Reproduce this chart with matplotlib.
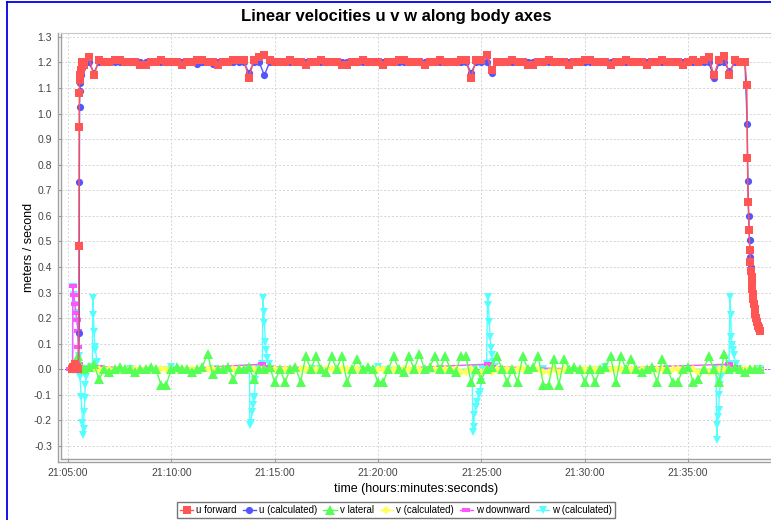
import numpy as np
import matplotlib
matplotlib.use('Agg')
import matplotlib.pyplot as plt
from matplotlib import rcParams
from matplotlib.lines import Line2D
from matplotlib.ticker import FuncFormatter

rcParams.update({'font.family': ['Liberation Sans', 'DejaVu Sans'], 'axes.unicode_minus': False})

title = 'Linear velocities u v w along body axes'
series_names = ['u forward', 'u (calculated)', 'v lateral', 'v (calculated)', 'w downward', 'w (calculated)']
series_colors = ['#FF5555', '#5555FF', '#55FF55', '#FFFF55', '#FF55FF', '#55FFFF']
xtick_minutes = [5, 10, 15, 20, 25, 30, 35]     # minutes after 21:00:00
ytick_values = [-0.3, -0.2, -0.1, 0.0, 0.1, 0.2, 0.3, 0.4, 0.5, 0.6, 0.7, 0.8, 0.9, 1.0, 1.1, 1.2, 1.3]

# ---- u forward (times in minutes after 21:00:00) ----
u_fwd_ramp_t = [5.20, 5.25, 5.30, 5.35, 5.40, 5.45, 5.50, 5.530, 5.540, 5.550, 5.565, 5.580, 5.620, 5.660, 5.700]
u_fwd_ramp_v = [0.00, 0.01, 0.00, 0.02, 0.00, 0.01, 0.00, 0.483, 0.949, 1.080, 1.130, 1.150, 1.170, 1.190, 1.200]
# sampled every 15 s from 21:05:45
u_fwd_plateau = [1.19, 1.22, 1.15, 1.21, 1.20, 1.20, 1.21, 1.21, 1.20, 1.20,
                 1.20, 1.19, 1.19, 1.20, 1.20, 1.21, 1.20, 1.20, 1.20, 1.19,
                 1.20, 1.20, 1.21, 1.21, 1.20, 1.20, 1.19, 1.20, 1.20, 1.21,
                 1.21, 1.21, 1.14, 1.21, 1.22, 1.23, 1.21, 1.20, 1.20, 1.20,
                 1.21, 1.20, 1.20, 1.19, 1.20, 1.20, 1.21, 1.20, 1.20, 1.20,
                 1.19, 1.19, 1.20, 1.20, 1.21, 1.20, 1.20, 1.20, 1.19, 1.20,
                 1.20, 1.21, 1.21, 1.20, 1.20, 1.20, 1.19, 1.20, 1.20, 1.21,
                 1.20, 1.20, 1.20, 1.21, 1.21, 1.14, 1.21, 1.21, 1.23, 1.17,
                 1.20, 1.20, 1.20, 1.21, 1.20, 1.20, 1.19, 1.19, 1.20, 1.20,
                 1.21, 1.20, 1.20, 1.20, 1.19, 1.20, 1.20, 1.21, 1.21, 1.20,
                 1.20, 1.20, 1.19, 1.20, 1.20, 1.21, 1.20, 1.20, 1.20, 1.19,
                 1.20, 1.20, 1.21, 1.20, 1.20, 1.20, 1.19, 1.20, 1.21, 1.20,
                 1.21, 1.22, 1.15, 1.21, 1.225, 1.15, 1.21, 1.20, 1.20]
u_fwd_tail_t = [37.84, 37.87, 37.905, 37.95, 37.985, 38.015, 38.05, 38.07, 38.09, 38.11,
                38.13, 38.16, 38.19, 38.22, 38.26, 38.30, 38.35, 38.40, 38.45, 38.49]
u_fwd_tail_v = [1.11, 0.825, 0.656, 0.546, 0.467, 0.42, 0.385, 0.36, 0.335, 0.315,
                0.295, 0.275, 0.255, 0.235, 0.215, 0.20, 0.185, 0.17, 0.16, 0.15]

# ---- u calculated ----
u_calc_ramp_t = [5.20, 5.30, 5.40, 5.50, 5.545, 5.550, 5.560, 5.575, 5.600, 5.650, 5.700]
u_calc_ramp_v = [0.00, 0.00, 0.00, 0.00, 0.142, 0.734, 1.027, 1.090, 1.120, 1.150, 1.180]
u_calc_plateau = [1.19, 1.20, 1.16, 1.20, 1.20, 1.20, 1.20, 1.20, 1.20, 1.20,
                  1.20, 1.20, 1.20, 1.20, 1.20, 1.20, 1.20, 1.20, 1.20, 1.20,
                  1.20, 1.20, 1.195, 1.20, 1.20, 1.195, 1.20, 1.20, 1.20, 1.20,
                  1.20, 1.20, 1.16, 1.20, 1.20, 1.15, 1.20, 1.20, 1.20, 1.20,
                  1.20, 1.20, 1.20, 1.20, 1.20, 1.20, 1.20, 1.20, 1.20, 1.20,
                  1.20, 1.20, 1.20, 1.20, 1.20, 1.20, 1.20, 1.20, 1.20, 1.20,
                  1.20, 1.20, 1.20, 1.20, 1.20, 1.20, 1.20, 1.20, 1.20, 1.20,
                  1.20, 1.20, 1.20, 1.20, 1.20, 1.16, 1.20, 1.20, 1.20, 1.16,
                  1.20, 1.20, 1.20, 1.20, 1.20, 1.20, 1.20, 1.20, 1.20, 1.20,
                  1.20, 1.20, 1.20, 1.20, 1.20, 1.20, 1.20, 1.20, 1.20, 1.20,
                  1.20, 1.20, 1.20, 1.20, 1.20, 1.20, 1.20, 1.20, 1.20, 1.20,
                  1.20, 1.20, 1.20, 1.20, 1.20, 1.20, 1.20, 1.20, 1.20, 1.20,
                  1.20, 1.20, 1.14, 1.20, 1.20, 1.165, 1.20, 1.20, 1.20]
u_calc_tail_t = [37.86, 37.89, 37.93, 37.97, 38.00, 38.03, 38.07, 38.12]
u_calc_tail_v = [0.958, 0.738, 0.60, 0.507, 0.44, 0.40, 0.35, 0.30]

# ---- v lateral / v calculated, sampled every 15 s from 21:05:30 ----
v_lat = [0.05, 0.00, 0.01, 0.02, -0.04, 0.00, -0.01, 0.00, 0.01, 0.00,
         0.00, -0.01, 0.00, 0.00, 0.01, 0.00, -0.06, -0.06, 0.00, 0.01,
         0.00, 0.00, -0.01, 0.00, 0.01, 0.06, -0.02, 0.00, 0.00, 0.01,
         -0.04, 0.00, 0.00, 0.01, -0.04, 0.00, 0.00, 0.01, -0.05, 0.00,
         -0.05, 0.00, 0.01, -0.05, 0.05, 0.00, 0.05, 0.00, -0.01, 0.05,
         0.00, 0.05, -0.05, 0.00, 0.04, 0.00, 0.01, 0.00, -0.05, -0.05,
         0.00, 0.05, 0.00, -0.01, 0.05, 0.00, 0.06, 0.00, 0.01, 0.05,
         0.00, 0.05, 0.00, -0.01, 0.05, 0.05, -0.05, 0.00, -0.04, 0.00,
         0.01, 0.05, 0.00, -0.05, 0.00, -0.05, 0.05, 0.00, 0.01, 0.05,
         -0.06, -0.06, 0.04, -0.06, 0.04, 0.00, 0.01, 0.00, -0.05, 0.00,
         -0.05, 0.00, 0.01, 0.05, -0.05, 0.05, 0.00, 0.04, 0.00, -0.01,
         0.00, 0.01, -0.05, 0.04, 0.00, -0.05, -0.05, 0.00, 0.01, -0.05,
         -0.04, 0.00, 0.05, 0.00, -0.05, 0.06, 0.00, 0.01, 0.00, -0.01,
         0.00, 0.00, 0.00]
v_calc = [0.00, 0.00, 0.00, 0.00, 0.00, 0.00, 0.00, 0.00, 0.00, 0.00,
          0.00, 0.00, 0.00, 0.00, 0.00, 0.00, 0.00, 0.00, 0.00, 0.00,
          0.00, 0.00, 0.00, 0.00, 0.00, 0.00, 0.00, 0.00, 0.00, 0.00,
          0.00, 0.00, 0.00, 0.00, 0.00, 0.00, 0.00, 0.00, 0.00, 0.00,
          0.00, 0.00, 0.00, 0.00, 0.00, 0.00, 0.00, 0.00, 0.00, 0.00,
          0.00, 0.00, 0.00, 0.00, 0.00, 0.00, 0.00, 0.00, 0.00, 0.00,
          0.00, 0.00, 0.00, 0.00, 0.00, 0.00, 0.00, 0.00, 0.00, 0.00,
          0.00, 0.00, 0.00, 0.00, -0.01, -0.01, 0.00, -0.01, -0.01, 0.00,
          -0.01, 0.00, 0.00, 0.00, 0.00, 0.00, 0.00, 0.00, 0.00, 0.00,
          -0.01, -0.01, 0.00, -0.01, 0.00, 0.00, 0.00, 0.00, 0.00, 0.00,
          0.00, 0.00, 0.00, 0.00, 0.00, 0.00, 0.00, 0.00, 0.00, 0.00,
          0.00, 0.00, 0.00, 0.00, 0.00, 0.00, 0.00, 0.00, 0.00, 0.00,
          -0.01, 0.00, -0.01, -0.01, 0.00, 0.00, 0.00, 0.00, 0.00, 0.00,
          0.00, 0.00, 0.00]

# ---- w downward ----
w_down_t = [5.10, 5.23, 5.23, 5.28, 5.33, 5.38, 5.43, 5.48, 5.49, 5.52, 5.60,
            6.50, 10.0, 14.40, 14.60, 20.0, 25.30, 25.50, 30.0, 37.0, 37.2, 38.5]
w_down_v = [0.00, 0.00, 0.326, 0.29, 0.255, 0.22, 0.193, 0.15, 0.088, 0.02, 0.01,
            0.01, 0.00, 0.02, 0.01, 0.00, 0.02, 0.01, 0.00, 0.02, 0.01, 0.00]

# ---- w calculated ----
w_calc_t = [5.20, 5.24, 5.29, 5.34, 5.39, 5.44, 5.49, 5.53, 5.58, 5.64, 5.70, 5.73, 5.75, 5.78,
            5.81, 5.84, 5.87, 5.95, 6.10, 6.18, 6.20, 6.23, 6.26, 6.30, 6.33, 6.40, 6.50, 8.0,
            10.0, 12.0, 13.78, 13.80, 13.85, 13.90, 13.95, 13.98, 14.02, 14.06, 14.12, 14.40,
            14.43, 14.47, 14.50, 14.55, 14.60, 14.65, 14.72, 14.85, 17.0, 20.0, 23.0, 24.55,
            24.59, 24.62, 24.66, 24.72, 24.80, 24.86, 24.92, 24.98, 25.05, 25.25, 25.30, 25.34,
            25.38, 25.42, 25.46, 25.50, 25.56, 25.65, 28.0, 31.0, 34.0, 36.35, 36.39, 36.42,
            36.45, 36.48, 36.51, 36.55, 36.60, 36.70, 36.98, 37.02, 37.06, 37.09, 37.12, 37.16,
            37.22, 37.30, 37.40, 38.50]
w_calc_v = [0.0, 0.32, 0.29, 0.25, 0.22, 0.19, 0.14, 0.05, -0.03, -0.11, -0.21, -0.257, -0.234, -0.166,
            -0.113, -0.06, -0.03, 0.0, 0.01, 0.0, 0.278, 0.212, 0.147, 0.088, 0.075, 0.03, 0.0, 0.0,
            0.01, 0.0, 0.0, -0.218, -0.21, -0.166, -0.14, -0.113, -0.107, -0.042, 0.0, 0.02,
            0.278, 0.225, 0.18, 0.108, 0.075, 0.045, 0.02, 0.0, 0.0, 0.01, 0.0, 0.0,
            -0.245, -0.224, -0.179, -0.146, -0.127, -0.10, -0.088, -0.048, 0.0, 0.02, 0.284, 0.25,
            0.186, 0.128, 0.083, 0.056, 0.03, 0.01, 0.0, 0.01, 0.0, 0.0, -0.277, -0.218,
            -0.185, -0.16, -0.10, -0.06, -0.03, 0.0, 0.02, 0.284, 0.212, 0.128, 0.095, 0.075,
            0.056, 0.02, 0.0, 0.0]


plateau_t = 5.75 + 0.25 * np.arange(len(u_fwd_plateau))
v_t = 5.5 + 0.25 * np.arange(len(v_lat))

u_fwd_t = np.concatenate([u_fwd_ramp_t, plateau_t, u_fwd_tail_t])
u_fwd_v = np.concatenate([u_fwd_ramp_v, u_fwd_plateau, u_fwd_tail_v])
u_calc_t = np.concatenate([u_calc_ramp_t, plateau_t, u_calc_tail_t])
u_calc_v = np.concatenate([u_calc_ramp_v, u_calc_plateau, u_calc_tail_v])

hrect = [(-1, -0.4), (1, -0.4), (1, 0.4), (-1, 0.4), (-1, -0.4)]

W, H = 771, 520
fig = plt.figure(figsize=(W / 100, H / 100), dpi=100)
ax = fig.add_axes([61 / W, 61 / H, 710 / W, 426 / H])

ax.axhline(0, color='#5555FF', lw=0.6, ls=(0, (2, 2)), zorder=1.5)

lines = []
specs = [(u_fwd_t, u_fwd_v, 's', 5.4, 2.6),
         (u_calc_t, u_calc_v, 'o', 5.2, 2.5),
         (v_t, v_lat, '^', 6.6, 2.4),
         (v_t, v_calc, 'D', 3.6, 2.3),
         (w_down_t, w_down_v, hrect, 5.5, 2.2),
         (w_calc_t, w_calc_v, 'v', 6.4, 2.1)]
for k, (tt, vv, mk, ms, z) in enumerate(specs):
    ln, = ax.plot(tt, vv, color=series_colors[k], lw=1.0, marker=mk, ms=ms,
                  markeredgewidth=0, zorder=z, label=series_names[k])
    lines.append(ln)

ax.set_xlim(4.661, 39.01)
ax.set_ylim(-0.351, 1.315)
ax.set_xticks(xtick_minutes)
ax.set_yticks(ytick_values)


def fmt_time(v, pos):
    s = int(round(v * 60)) + 21 * 3600
    return '%02d:%02d:%02d' % (s // 3600, (s % 3600) // 60, s % 60)


ax.xaxis.set_major_formatter(FuncFormatter(fmt_time))
ax.yaxis.set_major_formatter(FuncFormatter(lambda v, p: '%.1f' % v))
ax.tick_params(axis='both', colors='#999999', labelcolor='#444444', labelsize=7.5,
               length=2, width=0.8, pad=4.5)
ax.grid(True, color='#d4d4d4', linestyle=(0, (2, 2)), lw=0.7)
ax.set_axisbelow(True)

for side in ['left', 'bottom']:
    ax.spines[side].set_color('#a0a0a0')
    ax.spines[side].set_linewidth(1)
ax.spines['top'].set_color('#c8c8c8')
ax.spines['top'].set_linewidth(0.8)
ax.spines['right'].set_visible(False)

# outer axis lines (offset from the plot outline)
fig.add_artist(Line2D([58 / W, 58 / W], [1 - 33 / H, 1 - 462 / H], color='#a0a0a0', lw=1))
fig.add_artist(Line2D([58 / W, 1], [1 - 462 / H, 1 - 462 / H], color='#a0a0a0', lw=1))

# blue panel border
fig.add_artist(Line2D([7 / W, 7 / W], [0, 1 - 2 / H], color='#0000ee', lw=1.3))
fig.add_artist(Line2D([7 / W, 1], [1 - 2 / H, 1 - 2 / H], color='#0000ee', lw=1.3))

fig.text(396 / W, 1 - 17 / H, title, ha='center', va='center', fontsize=12, fontweight='bold')
fig.text(29 / W, 1 - 247 / H, 'meters / second', rotation=90, ha='center', va='center', fontsize=9)
fig.text(416 / W, 1 - 489 / H, 'time (hours:minutes:seconds)', ha='center', va='center', fontsize=9)

leg = fig.legend(lines, series_names, loc='center', bbox_to_anchor=(396 / W, 1 - 510 / H),
                 ncol=6, fontsize=7, frameon=True, fancybox=False, handlelength=1.4,
                 handletextpad=0.3, columnspacing=0.6, borderpad=0.3)
leg.get_frame().set_edgecolor('#555555')
leg.get_frame().set_linewidth(1)

fig.savefig('out.png', dpi=100)
